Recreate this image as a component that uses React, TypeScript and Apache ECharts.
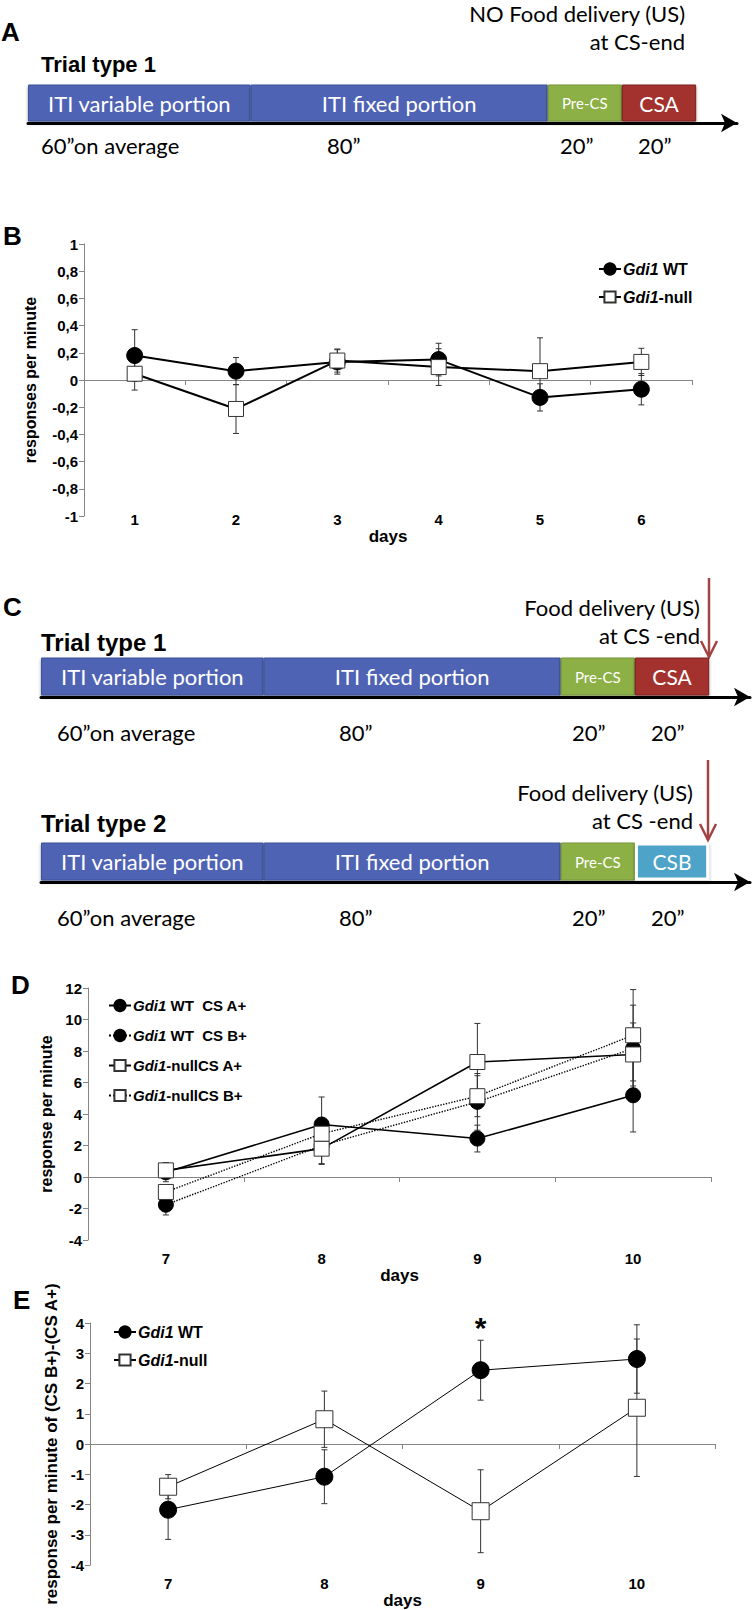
import React, { useEffect, useRef } from 'react';
import * as echarts from 'echarts';

// ---------- data ----------
const segDur = [60, 80, 20, 20];
const segNames1 = ['ITI variable portion', 'ITI fixed portion', 'Pre-CS', 'CSA'];
const segNames2 = ['ITI variable portion', 'ITI fixed portion', 'Pre-CS', 'CSB'];
const durLabels = ['60\u201Don average', '80\u201D', '20\u201D', '20\u201D'];

const daysB = ['1', '2', '3', '4', '5', '6'];
const bWT = [0.18, 0.065, 0.133, 0.15, -0.128, -0.068];
const bWTErr = [0.19, 0.1, 0.09, 0.12, 0.1, 0.115];
const bNull = [0.046, -0.213, 0.143, 0.095, 0.065, 0.133];
const bNullErr = [0.12, 0.18, 0.085, 0.135, 0.245, 0.1];

const daysD = ['7', '8', '9', '10'];
const dWTA = [0.3, 3.33, 2.44, 5.19];
const dWTAErr = [0.6, 1.75, 0.85, 2.33];
const dWTB = [-1.76, 2.0, 4.77, 8.16];
const dWTBErr = [0.65, 1.2, 1.8, 2.75];
const dNullA = [0.42, 1.8, 7.3, 7.78];
const dNullAErr = [0.5, 0.95, 2.45, 2.0];
const dNullB = [-0.95, 2.75, 5.13, 9.0];
const dNullBErr = [0.4, 1.0, 1.3, 2.9];

const eWT = [-2.17, -1.08, 2.44, 2.81];
const eWTErr = [0.98, 0.89, 0.99, 1.13];
const eNull = [-1.41, 0.82, -2.22, 1.2];
const eNullErr = [0.4, 0.93, 1.37, 2.27];
const eStar: [string, number][] = [['9', 3.85]];

// ---------- styles ----------
const ARIAL = "'Liberation Sans', Arial, Helvetica, sans-serif";
const CAL = "Lato, 'Open Sans', sans-serif";
const AXIS_GRAY = '#858585';
const BLUE = '#4F63B5';
const GREEN = '#8CB045';
const RED = '#A3302F';
const CSB = '#4DA3C8';
const ARROW_RED = '#A24444';

function errSeries(xi: number, yi: number, vals: number[], errs: number[], color = '#333') {
  return {
    type: 'custom',
    xAxisIndex: xi,
    yAxisIndex: yi,
    z: 1,
    silent: true,
    clip: false,
    encode: { x: 0, y: [1, 2] },
    data: vals.map((v, i) => [i, v - errs[i], v + errs[i]]),
    renderItem: (params: any, api: any) => {
      const x = api.value(0);
      const lo = api.coord([x, api.value(1)]);
      const hi = api.coord([x, api.value(2)]);
      const w = 3;
      const st = { stroke: color, lineWidth: 1 };
      return {
        type: 'group',
        children: [
          { type: 'line', shape: { x1: lo[0], y1: lo[1], x2: hi[0], y2: hi[1] }, style: st },
          { type: 'line', shape: { x1: lo[0] - w, y1: lo[1], x2: lo[0] + w, y2: lo[1] }, style: st },
          { type: 'line', shape: { x1: hi[0] - w, y1: hi[1], x2: hi[0] + w, y2: hi[1] }, style: st },
        ],
      };
    },
  };
}

function lineSeries(name: string, xi: number, yi: number, data: number[], filled: boolean, size: number, width: number, dotted = false) {
  return {
    name,
    type: 'line',
    xAxisIndex: xi,
    yAxisIndex: yi,
    data,
    z: 3,
    symbol: filled ? 'circle' : 'rect',
    symbolSize: size,
    itemStyle: filled
      ? { color: '#000', borderColor: '#000', borderWidth: 1 }
      : { color: '#fff', borderColor: '#333', borderWidth: 1 },
    lineStyle: { color: '#000', width, type: dotted ? 'dotted' : 'solid' },
  };
}

function yAxisCfg(gi: number, min: number, max: number, interval: number, name: string, nameGap: number, nameSize: number, comma: boolean) {
  return {
    gridIndex: gi,
    type: 'value',
    min,
    max,
    interval,
    name,
    nameLocation: 'middle',
    nameGap,
    nameRotate: 90,
    nameTextStyle: { fontFamily: ARIAL, fontWeight: 'bold', fontSize: nameSize, color: '#000' },
    axisLine: { show: true, lineStyle: { color: AXIS_GRAY, width: 1 } },
    axisTick: { show: true, length: 5, inside: false, lineStyle: { color: AXIS_GRAY } },
    splitLine: { show: false },
    axisLabel: {
      color: '#000',
      fontFamily: ARIAL,
      fontWeight: 'bold',
      fontSize: 15,
      margin: 6,
      formatter: (v: number) => {
        const r = Math.round(v * 10) / 10;
        return comma ? String(r).replace('.', ',') : String(r);
      },
    },
  };
}

function zeroXAxis(gi: number, cats: string[]) {
  return {
    gridIndex: gi,
    type: 'category',
    data: cats,
    boundaryGap: true,
    axisLine: { show: true, onZero: true, lineStyle: { color: AXIS_GRAY, width: 1 } },
    axisTick: { show: true, length: 5, inside: false, interval: 0, alignWithLabel: false, lineStyle: { color: AXIS_GRAY } },
    axisLabel: { show: false },
    splitLine: { show: false },
  };
}

function labelXAxis(gi: number, cats: string[], offset: number, margin: number, nameGap: number) {
  return {
    gridIndex: gi,
    type: 'category',
    data: cats,
    position: 'bottom',
    offset,
    boundaryGap: true,
    axisLine: { show: false, onZero: false },
    axisTick: { show: false },
    splitLine: { show: false },
    axisLabel: { show: true, interval: 0, margin, color: '#000', fontFamily: ARIAL, fontWeight: 'bold', fontSize: 15 },
    name: 'days',
    nameLocation: 'middle',
    nameGap,
    nameTextStyle: { fontFamily: ARIAL, fontWeight: 'bold', fontSize: 17, color: '#000' },
  };
}

const legendNames: Record<string, string> = {
  'B WT': '{i|Gdi1} {b|WT}',
  'B null': '{i|Gdi1}{b|-null}',
  'D WT A': '{i|Gdi1} {b|WT\u00a0\u00a0CS A+}',
  'D WT B': '{i|Gdi1} {b|WT\u00a0\u00a0CS B+}',
  'D null A': '{i|Gdi1}{b|-nullCS A+}',
  'D null B': '{i|Gdi1}{b|-nullCS B+}',
  'E WT': '{i|Gdi1} {b|WT}',
  'E null': '{i|Gdi1}{b|-null}',
};

function legendCfg(names: string[], left: number, top: number, gap: number, fs: number) {
  return {
    orient: 'vertical',
    left,
    top,
    itemWidth: 22,
    itemHeight: 14,
    itemGap: gap,
    selectedMode: false,
    data: names,
    formatter: (n: string) => legendNames[n],
    textStyle: {
      color: '#000',
      fontFamily: ARIAL,
      fontWeight: 'bold',
      fontSize: fs,
      padding: [0, 0, 0, -3],
      rich: {
        i: { fontFamily: ARIAL, fontStyle: 'italic', fontWeight: 'bold', fontSize: fs, color: '#000' },
        b: { fontFamily: ARIAL, fontWeight: 'bold', fontSize: fs, color: '#000' },
      },
    },
  };
}

function txt(text: string, x: number, y: number, size: number, opts: any = {}) {
  return {
    type: 'text',
    x,
    y,
    silent: true,
    style: {
      text,
      fill: opts.fill || '#000',
      fontSize: size,
      fontFamily: opts.family || CAL,
      fontWeight: opts.weight || 'normal',
      align: opts.align || 'left',
      verticalAlign: 'middle',
    },
  };
}

function redArrow(x: number, y1: number, y2: number) {
  return [
    { type: 'line', silent: true, shape: { x1: x, y1, x2: x, y2 }, style: { stroke: ARROW_RED, lineWidth: 2.5 } },
    {
      type: 'polyline',
      silent: true,
      shape: { points: [[x - 8, y2 - 16], [x, y2], [x + 8, y2 - 16]] },
      style: { stroke: ARROW_RED, lineWidth: 2.5, fill: 'none' },
    },
  ];
}

function buildOption() {
  // timeline grids: A, C trial 1, C trial 2  (180 units of bar = 668 px)
  const tl = [
    { left: 28, top: 83, width: 709, height: 40, max: 191, names: segNames1, last: RED, lastBorder: '#7E2220', lastBW: 1 },
    { left: 41, top: 656, width: 709, height: 41, max: 191, names: segNames1, last: RED, lastBorder: '#7E2220', lastBW: 1 },
    { left: 41, top: 841, width: 709, height: 41, max: 191, names: segNames2, last: CSB, lastBorder: '#ffffff', lastBW: 3 },
  ];
  const grids: any[] = tl.map((t) => ({ left: t.left, top: t.top, width: t.width, height: t.height }));
  grids.push({ left: 84, top: 244, width: 608, height: 272 }); // B  (3)
  grids.push({ left: 88, top: 988, width: 623, height: 252 }); // D  (4)
  grids.push({ left: 90, top: 1323, width: 625, height: 252 }); // E (5)

  const xAxes: any[] = tl.map((t, i) => ({
    gridIndex: i,
    type: 'value',
    min: 0,
    max: t.max,
    axisLabel: { show: false },
    axisTick: { show: false },
    splitLine: { show: false },
    axisLine: { show: true, symbol: ['none', 'arrow'], symbolSize: [14, 16], lineStyle: { color: '#000', width: 3 } },
  }));
  const yAxes: any[] = tl.map((_, i) => ({ gridIndex: i, type: 'category', data: ['trial'], show: false }));

  // B
  xAxes.push(zeroXAxis(3, daysB)); // 3
  xAxes.push(labelXAxis(3, daysB, -7, 3, 11)); // 4
  yAxes.push(yAxisCfg(3, -1, 1, 0.2, 'responses per minute', 46, 16, true)); // 3
  // D
  xAxes.push(zeroXAxis(4, daysD)); // 5
  xAxes.push(labelXAxis(4, daysD, 0, 11, 9)); // 6
  yAxes.push(yAxisCfg(4, -4, 12, 2, 'response per minute', 33, 16, false)); // 4
  // E
  xAxes.push(zeroXAxis(5, daysD)); // 7
  xAxes.push(labelXAxis(5, daysD, 0, 11, 16)); // 8
  yAxes.push(yAxisCfg(5, -4, 4, 1, 'response per minute of (CS B+)-(CS A+)', 27, 17, false)); // 5

  const series: any[] = [];
  tl.forEach((t, ti) => {
    segDur.forEach((d, k) => {
      const isLast = k === 3;
      const color = k < 2 ? BLUE : k === 2 ? GREEN : t.last;
      series.push({
        type: 'bar',
        xAxisIndex: ti,
        yAxisIndex: ti,
        stack: 'tl' + ti,
        barWidth: t.height - 3,
        data: [d],
        silent: true,
        itemStyle: {
          color,
          borderColor: k < 2 ? '#3F5298' : k === 2 ? '#76963A' : t.lastBorder,
          borderWidth: isLast ? t.lastBW : 1,
          shadowBlur: 3,
          shadowOffsetY: 2,
          shadowColor: 'rgba(0,0,0,0.45)',
        },
        label: {
          show: true,
          position: 'inside',
          formatter: t.names[k],
          color: '#fff',
          fontFamily: CAL,
          fontSize: k === 2 ? 15 : k === 3 ? 21 : 22,
        },
      });
    });
  });

  // B
  series.push(errSeries(3, 3, bWT, bWTErr));
  series.push(errSeries(3, 3, bNull, bNullErr));
  series.push(lineSeries('B WT', 3, 3, bWT, true, 16, 2));
  series.push(lineSeries('B null', 3, 3, bNull, false, 15, 2));
  // D
  series.push(errSeries(5, 4, dWTA, dWTAErr));
  series.push(errSeries(5, 4, dWTB, dWTBErr));
  series.push(errSeries(5, 4, dNullA, dNullAErr));
  series.push(errSeries(5, 4, dNullB, dNullBErr));
  series.push(lineSeries('D WT A', 5, 4, dWTA, true, 15, 1.6));
  series.push(lineSeries('D WT B', 5, 4, dWTB, true, 15, 1.4, true));
  series.push(lineSeries('D null A', 5, 4, dNullA, false, 15, 1.6));
  series.push(lineSeries('D null B', 5, 4, dNullB, false, 15, 1.4, true));
  // E
  series.push(errSeries(7, 5, eWT, eWTErr));
  series.push(errSeries(7, 5, eNull, eNullErr));
  const eWTs: any = lineSeries('E WT', 7, 5, eWT, true, 17, 1);
  eWTs.markPoint = {
    symbol: 'circle',
    symbolSize: 1,
    itemStyle: { color: 'rgba(0,0,0,0)' },
    silent: true,
    data: eStar.map((s) => ({ coord: s })),
    label: { show: true, position: 'inside', formatter: '*', color: '#000', fontFamily: ARIAL, fontWeight: 'bold', fontSize: 30 },
  };
  series.push(eWTs);
  series.push(lineSeries('E null', 7, 5, eNull, false, 17, 1));

  const bold = { family: ARIAL, weight: 'bold' };
  const graphic: any[] = [
    // panel letters
    txt('A', 1, 32, 26, bold),
    txt('B', 3, 236, 26, bold),
    txt('C', 3, 607, 26, bold),
    txt('D', 11, 985, 26, bold),
    txt('E', 13, 1300, 26, bold),
    // A
    txt('NO Food delivery (US)', 685, 13, 22, { align: 'right' }),
    txt('at CS-end', 685, 41, 22, { align: 'right' }),
    txt('Trial type 1', 41, 64, 22, bold),
    // C
    txt('Food delivery (US)', 700, 607, 22, { align: 'right' }),
    txt('at CS -end', 700, 635, 22, { align: 'right' }),
    txt('Trial type 1', 41, 642, 24, bold),
    txt('Food delivery (US)', 693, 792, 22, { align: 'right' }),
    txt('at CS -end', 693, 820, 22, { align: 'right' }),
    txt('Trial type 2', 41, 823, 24, bold),
    ...redArrow(709, 578, 657),
    ...redArrow(708, 760, 840),
  ];
  const durX = [
    [41, 327, 560, 638],
    [57, 339, 572, 651],
    [57, 339, 572, 651],
  ];
  const durY = [145, 732, 917];
  durX.forEach((xs, ti) => {
    xs.forEach((x, k) => graphic.push(txt(durLabels[k], x, durY[ti], 22)));
  });

  return {
    animation: false,
    backgroundColor: '#fff',
    grid: grids,
    xAxis: xAxes,
    yAxis: yAxes,
    legend: [
      legendCfg(['B WT', 'B null'], 593, 256, 12, 16),
      legendCfg(['D WT A', 'D WT B', 'D null A', 'D null B'], 103, 993, 15, 15),
      legendCfg(['E WT', 'E null'], 108, 1319, 12, 16),
    ],
    series,
    graphic,
  };
}

export default function App() {
  const ref = useRef<HTMLDivElement>(null);
  useEffect(() => {
    document.body.style.margin = '0';
    const chart = echarts.init(ref.current as HTMLDivElement, null, { renderer: 'svg' });
    chart.setOption(buildOption() as any);
    return () => chart.dispose();
  }, []);
  return <div ref={ref} style={{ width: 754, height: 1610 }} />;
}
